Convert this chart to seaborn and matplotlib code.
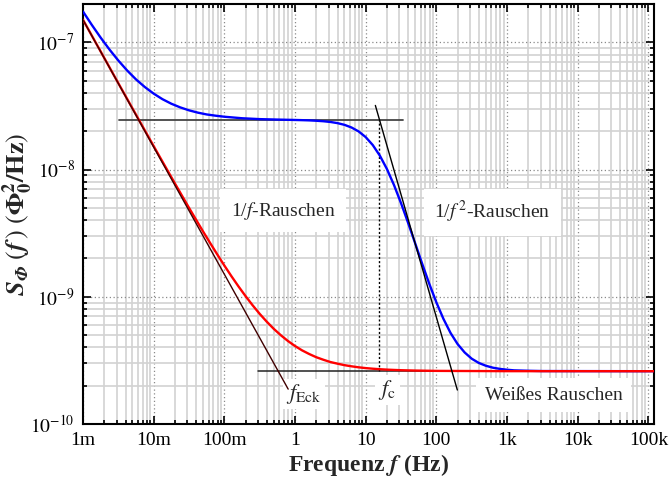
import numpy as np
import matplotlib
matplotlib.use("Agg")
import matplotlib.pyplot as plt
import matplotlib.ticker as mticker
import seaborn as sns

# curves (Hz, Phi0^2/Hz)
f_red = [1e-3, 3.162e-3, 1e-2, 0.01995, 0.03162, 0.03981, 0.05012, 0.0631, 0.07943, 0.1, 0.1259,
         0.1585, 0.1995, 0.2512, 0.3162, 0.3981, 0.5012, 0.631, 0.7943, 1, 1.259, 1.585, 1.995,
         2.512, 3.162, 3.981, 5.012, 6.31, 7.943, 10, 12.59, 15.85, 19.95, 25.12, 31.62, 50.12,
         100, 1000, 1.2e5]
s_red = [1.503e-7, 4.77e-8, 1.526e-8, 7.78e-9, 5.0e-9, 4.03e-9, 3.25e-9, 2.64e-9, 2.15e-9, 1.76e-9,
         1.451e-9, 1.206e-9, 1.012e-9, 8.57e-10, 7.34e-10, 6.37e-10, 5.59e-10, 4.98e-10, 4.49e-10,
         4.10e-10, 3.79e-10, 3.55e-10, 3.35e-10, 3.20e-10, 3.07e-10, 2.98e-10, 2.90e-10, 2.84e-10,
         2.79e-10, 2.75e-10, 2.72e-10, 2.695e-10, 2.675e-10, 2.66e-10, 2.647e-10, 2.63e-10,
         2.615e-10, 2.602e-10, 2.60e-10]

f_blue = [1e-3, 1.334e-3, 1.778e-3, 2.371e-3, 3.162e-3, 4.217e-3, 5.623e-3, 7.499e-3, 0.01, 0.01334,
          0.01778, 0.02371, 0.03162, 0.04217, 0.05623, 0.07499, 0.1, 0.1778, 0.3162, 0.5623, 1,
          1.259, 1.585, 1.995, 2.512, 3.162, 3.981, 5.012, 6.31, 7.943, 10, 12.59, 15.85, 19.95,
          25.12, 31.62, 39.81, 50.12, 63.1, 79.43, 100, 125.9, 158.5, 199.5, 251.2, 316.2, 398.1,
          501.2, 631, 794.3, 1000, 1259, 1585, 1995, 3162, 1.2e5]
s_blue = [1.745e-7, 1.369e-7, 1.088e-7, 8.77e-8, 7.19e-8, 6.0e-8, 5.11e-8, 4.45e-8, 3.95e-8, 3.57e-8,
          3.29e-8, 3.08e-8, 2.92e-8, 2.80e-8, 2.71e-8, 2.65e-8, 2.60e-8, 2.53e-8, 2.49e-8, 2.47e-8,
          2.452e-8, 2.444e-8, 2.434e-8, 2.418e-8, 2.397e-8, 2.365e-8, 2.317e-8, 2.245e-8, 2.139e-8,
          1.993e-8, 1.798e-8, 1.557e-8, 1.286e-8, 1.010e-8, 7.56e-9, 5.44e-9, 3.81e-9, 2.63e-9,
          1.81e-9, 1.263e-9, 9.03e-10, 6.70e-10, 5.20e-10, 4.25e-10, 3.65e-10, 3.26e-10, 3.02e-10,
          2.87e-10, 2.77e-10, 2.71e-10, 2.67e-10, 2.64e-10, 2.63e-10, 2.62e-10, 2.607e-10, 2.60e-10]

# asymptotes
f_inv = [1e-3, 0.8]
s_inv = [1.5e-7, 1.88e-10]
f_inv2 = [13.7, 198]
s_inv2 = [3.19e-8, 1.85e-10]
f_plateau = [3.2e-3, 34]
s_plateau = [2.43e-8, 2.43e-8]
f_white = [0.3, 1.2e5]
s_white = [2.6e-10, 2.6e-10]
f_c = 15.6

xticks = [1e-3, 1e-2, 1e-1, 1, 10, 100, 1e3, 1e4, 1e5]
xticklabels = ["1m", "10m", "100m", "1", "10", "100", "1k", "10k", "100k"]
yticks = [1e-10, 1e-9, 1e-8, 1e-7]
yticklabels = [r"$10^{-10}$", r"$10^{-9}$", r"$10^{-8}$", r"$10^{-7}$"]

sns.set_style("ticks")
plt.rcParams['font.family'] = ['Liberation Serif', 'DejaVu Serif']
plt.rcParams['mathtext.fontset'] = 'stix'

fig = plt.figure(figsize=(6.69, 4.87), dpi=100)
ax = fig.add_axes([83 / 669, 1 - 424 / 487, (654 - 83) / 669, (424 - 4) / 487])

ax.set_xscale("log")
ax.set_yscale("log")
ax.set_xlim(1e-3, 1.2e5)
ax.set_ylim(1e-10, 2e-7)

ax.set_axisbelow(True)
ax.grid(which="minor", color="#d2d2d2", lw=1.2, ls="-")
ax.grid(which="major", color="#8a8a8a", lw=0.9, ls=(0, (1, 2)))

# helper lines
sns.lineplot(x=f_white, y=s_white, color="#222222", lw=1.1, ax=ax, zorder=2)
sns.lineplot(x=f_plateau, y=s_plateau, color="#444444", lw=1.3, ax=ax, zorder=2)
ax.vlines(f_c, s_white[0], s_plateau[0], color="black", lw=1.0, ls=(0, (1.5, 1.5)), zorder=2)

sns.lineplot(x=f_blue, y=s_blue, color="#0000ff", lw=1.7, ax=ax, zorder=3)
sns.lineplot(x=f_red, y=s_red, color="#ff0000", lw=1.7, ax=ax, zorder=3)
sns.lineplot(x=f_inv, y=s_inv, color="#400000", lw=1.0, ax=ax, zorder=4)
sns.lineplot(x=f_inv2, y=s_inv2, color="black", lw=1.0, ax=ax, zorder=4)

ax.xaxis.set_major_locator(mticker.FixedLocator(xticks))
ax.xaxis.set_major_formatter(mticker.FixedFormatter(xticklabels))
ax.xaxis.set_minor_locator(mticker.LogLocator(base=10, subs=np.arange(2, 10), numticks=20))
ax.xaxis.set_minor_formatter(mticker.NullFormatter())
ax.yaxis.set_major_locator(mticker.FixedLocator(yticks))
ax.yaxis.set_major_formatter(mticker.FixedFormatter(yticklabels))
ax.yaxis.set_minor_locator(mticker.LogLocator(base=10, subs=np.arange(2, 10), numticks=20))
ax.yaxis.set_minor_formatter(mticker.NullFormatter())

ax.tick_params(which="both", direction="in", top=True, right=True, width=1.2, colors="black")
ax.tick_params(which="major", length=6, labelsize=14, pad=6)
ax.tick_params(which="minor", length=3)
for sp in ax.spines.values():
    sp.set_linewidth(1.5)
    sp.set_color("black")

box = dict(facecolor="white", edgecolor="none", boxstyle="square,pad=0.55")
ax.text(0.68, 4.75e-9, r"1/$f$-Rauschen", fontsize=14, ha="center", va="center", bbox=box, zorder=1)
ax.text(621, 4.6e-9, r"1/$f^{\,2}$-Rauschen", fontsize=14, ha="center", va="center", bbox=box, zorder=1)
ax.text(4540, 1.69e-10, "Weißes Rauschen", fontsize=14, ha="center", va="center",
        bbox=dict(facecolor="white", edgecolor="none", boxstyle="square,pad=0.45"), zorder=1)
ax.text(1.35, 1.72e-10, r"$f_{\mathrm{Eck}}$", fontsize=16, ha="center", va="center",
        bbox=dict(facecolor="white", edgecolor="none", boxstyle="square,pad=0.15"), zorder=1)
ax.text(20.2, 1.85e-10, r"$f_{\mathrm{c}}$", fontsize=16, ha="center", va="center",
        bbox=dict(facecolor="white", edgecolor="none", boxstyle="square,pad=0.15"), zorder=1)

ax.set_xlabel(r"Frequenz $\mathbfit{f}$ (Hz)", fontsize=17, fontweight="bold", labelpad=2)
ax.set_ylabel(r"$\mathbfit{S}_{\mathbfit{\Phi}}\ (\mathbfit{f}\,)\ (\mathbf{\Phi}_{\mathbf{0}}^{\mathbf{2}}\mathbf{/Hz})$",
              fontsize=19)
ax.yaxis.set_label_coords(-0.084, 0.5)

fig.savefig("out.png", dpi=100)
